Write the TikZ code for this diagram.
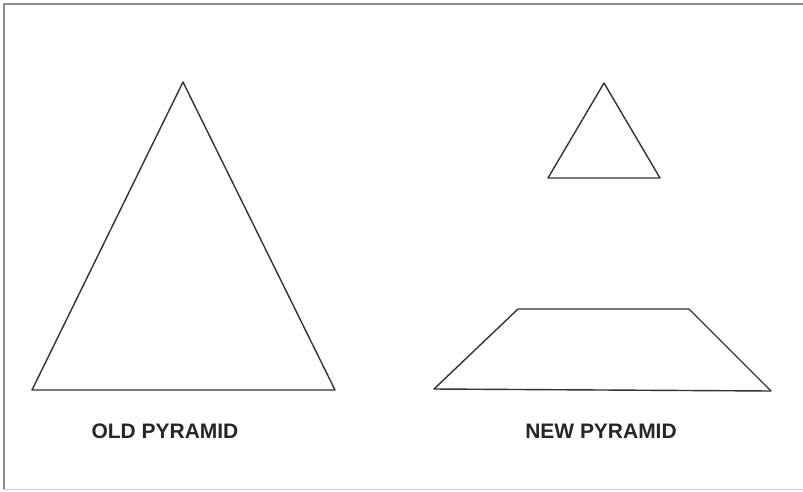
\documentclass[tikz,border=0pt]{standalone}
\usepackage{fontspec}
\setmainfont{Liberation Sans}

\begin{document}
\begin{tikzpicture}[x=0.03cm, y=-0.03cm, line cap=round, line join=round]
  \tikzset{
    frame/.style={line width=1.4pt, draw=black!45},
    outline/.style={line width=1.2pt, draw=black!80},
    pyrlabel/.style={font=\fontsize{17.9}{20}\selectfont\bfseries, text=black!85, inner sep=0pt}
  }
  \useasboundingbox (0, 0) rectangle (803, 491);

  % khung
  \draw[frame] (803, 4) -- (4, 4) -- (4, 489);
  \draw[frame, draw=black!20, line width=0.8pt] (4, 489) -- (803, 489);

  % kim tự tháp cũ
  \coordinate (oldtop) at (183, 82);
  \coordinate (oldleft) at (32, 390);
  \coordinate (oldright) at (335, 390);
  \draw[outline] (oldtop) -- (oldleft) -- (oldright) -- cycle;

  % kim tự tháp mới: đỉnh nhỏ
  \coordinate (newtop) at (604, 83);
  \coordinate (newleft) at (548, 178);
  \coordinate (newright) at (660, 178);
  \draw[outline] (newtop) -- (newleft) -- (newright) -- cycle;

  % kim tự tháp mới: phần đáy
  \coordinate (baseTL) at (518, 309);
  \coordinate (baseTR) at (689, 309);
  \coordinate (baseBL) at (434, 389);
  \coordinate (baseBR) at (771, 391);
  \draw[outline] (baseTL) -- (baseTR) -- (baseBR) -- (baseBL) -- cycle;

  % nhãn
  \node[pyrlabel] (oldname) at (165, 431) {OLD PYRAMID};
  \node[pyrlabel] (newname) at (601, 431) {NEW PYRAMID};

\end{tikzpicture}
\end{document}
